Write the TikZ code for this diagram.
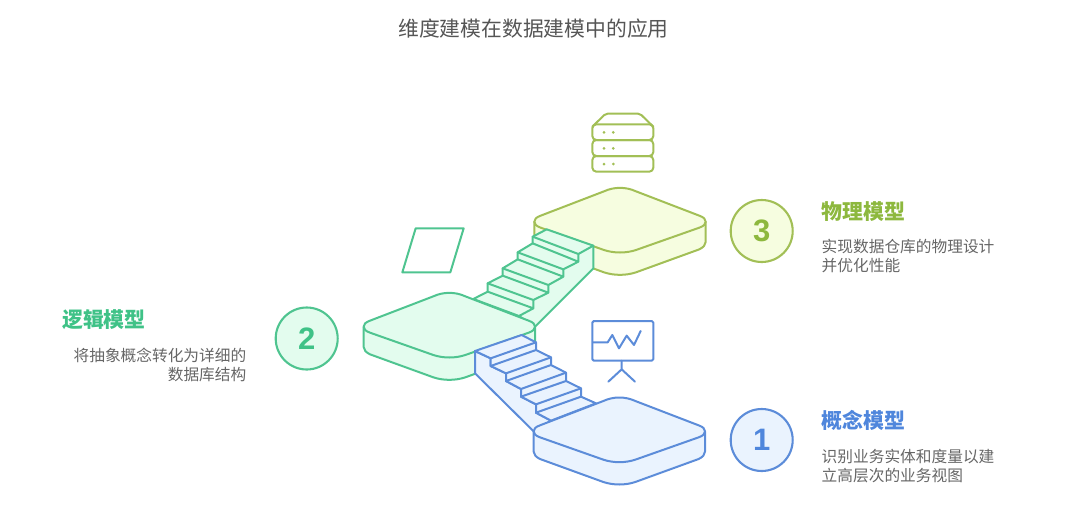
\documentclass[tikz,border=0pt]{standalone}
\usepackage{fontspec}
\setmainfont{Noto Sans CJK SC}
\newfontfamily\numfont{Liberation Sans}
\definecolor{ylin}{HTML}{A2BF56}\definecolor{yfil}{HTML}{F6FDE0}\definecolor{ytxt}{HTML}{8DB83E}
\definecolor{glin}{HTML}{4FC490}\definecolor{gfil}{HTML}{E3FCEE}\definecolor{gtxt}{HTML}{3FC287}
\definecolor{blin}{HTML}{5C8CD9}\definecolor{bfil}{HTML}{EAF3FE}\definecolor{btxt}{HTML}{4F86DC}
\definecolor{bodytxt}{HTML}{666666}\definecolor{titletxt}{HTML}{555555}
\tikzset{
  sketch/.style={line width=2pt,line join=round,line cap=round},
  numcirc/.style={circle,minimum size=62pt,inner sep=0pt,line width=2.1pt,font=\numfont\fontsize{31}{31}\selectfont\bfseries},
  headtxt/.style={inner sep=0pt,font=\fontsize{20.9}{24}\selectfont\bfseries},
  bodyl/.style={inner sep=0pt,text=bodytxt,align=left,anchor=west,font=\fontsize{15.7}{19}\selectfont},
  bodyr/.style={inner sep=0pt,text=bodytxt,align=right,anchor=east,font=\fontsize{15.7}{19}\selectfont},
  zoomed/.style={xshift=350pt,yshift=-280pt,x=0.33333pt,y=-0.33333pt},
}
\newcommand{\platform}[4]{%
  \begin{scope}[shift={(#1,#2)}]
    \path[sketch,draw=#3,fill=#4] (-257,102) -- (-257,163) .. controls (-257,172) and (-250,179) .. (-238,185)
      -- (-48,254) .. controls (-18,264) and (18,264) .. (48,254) -- (238,185)
      .. controls (250,179) and (257,172) .. (257,163) -- (257,102) -- cycle;
    \path[sketch,draw=#3,fill=#4] (-48,11) .. controls (-18,-3) and (18,-3) .. (48,11) -- (238,84)
      .. controls (252,89) and (257,95) .. (257,102) .. controls (257,109) and (252,115) .. (238,120)
      -- (48,187) .. controls (18,197) and (-18,197) .. (-48,187) -- (-238,120)
      .. controls (-252,115) and (-257,109) .. (-257,102) .. controls (-257,95) and (-252,89) .. (-238,84) -- cycle;
  \end{scope}}
\begin{document}
\begin{tikzpicture}[x=1pt,y=-1pt]
\useasboundingbox (0,0) rectangle (1080,520);
\begin{scope}[zoomed]
  % yellow platform
  \platform{810}{-277}{ylin}{yfil}
  % green stairs
  \path[sketch,draw=glin,fill=gfil] (590,-152) -- (548,-130) -- (548,-110) -- (503,-83) -- (503,-62) -- (458,-35) -- (458,-13) -- (413,10) -- (413,35) -- (370,57)
    -- (507,108) -- (555,140) -- (730,-35) -- (730,-103) -- cycle;
  \draw[sketch,draw=glin] (548,-130) -- (685,-78) -- (685,-55) -- (548,-110)
     (503,-83) -- (640,-32) -- (640,-10) -- (503,-62)
     (458,-35) -- (595,15) -- (595,38) -- (458,-13)
     (413,10) -- (550,60) -- (550,85) -- (413,35)
     (685,-55) -- (640,-32) (640,-10) -- (595,15) (595,38) -- (550,60) (550,85) -- (507,108)
     (730,-103) -- (685,-78);
  % green platform
  \platform{298}{38}{glin}{gfil}
  % blue stairs
  \path[sketch,draw=blin,fill=bfil] (375,213) -- (422,235) -- (422,258) -- (468,280) -- (468,303) -- (513,327) -- (513,350) -- (558,373) -- (558,398) -- (603,422)
    -- (552,455) -- (375,280) -- cycle;
  \path[sketch,draw=blin,fill=bfil] (375,213) -- (515,165) -- (558,187) -- (558,210) -- (603,232) -- (603,255) -- (648,278) -- (648,303) -- (693,325) -- (693,350) -- (738,370)
    -- (603,422) -- (558,398) -- (558,373) -- (513,350) -- (513,327) -- (468,303) -- (468,280) -- (422,258) -- (422,235) -- cycle;
  \draw[sketch,draw=blin] (422,235) -- (558,187) (422,258) -- (558,210)
     (468,280) -- (603,232) (468,303) -- (603,255)
     (513,327) -- (648,278) (513,350) -- (648,303)
     (558,373) -- (693,325) (558,398) -- (693,350);
  % blue platform
  \platform{808}{352}{blin}{bfil}
  % parallelogram icon
  \draw[sketch,draw=glin] (197,-155) -- (341,-155) -- (301,-23) -- (157,-23) -- cycle;
  % server icon
  \draw[sketch,draw=ylin,rounded corners=2pt] (727,-460) -- (767,-499) -- (870,-499) -- (910,-460);
  \draw[sketch,draw=ylin,rounded corners=4pt] (727,-467) rectangle (910,-420);
  \draw[sketch,draw=ylin,rounded corners=4pt] (727,-420) rectangle (910,-372);
  \draw[sketch,draw=ylin,rounded corners=4pt] (727,-372) rectangle (910,-325);
  \foreach \yy in {-443,-395,-348} {
    \fill[ylin] (762,\yy) circle (1.5pt);
    \fill[ylin] (790,\yy) circle (1.5pt);
  }
  % board icon
  \draw[sketch,draw=blin,rounded corners=1.5pt] (727,123) rectangle (910,242);
  \draw[sketch,draw=blin] (730,187) -- (773,187) -- (787,165) -- (807,205) -- (830,167) -- (852,195) -- (872,153);
  \draw[sketch,draw=blin] (815,242) -- (815,268) (775,305) -- (815,268) -- (855,305);
\end{scope}
\node[numcirc,draw=ylin,fill=yfil,text=ytxt] (c3) at (761.7,231) {3};
\node[numcirc,draw=glin,fill=gfil,text=gtxt] (c2) at (306.7,338.5) {2};
\node[numcirc,draw=blin,fill=bfil,text=btxt] (c1) at (761.7,440) {1};
\node[inner sep=0pt,text=titletxt,font=\fontsize{20.8}{24}\selectfont] (title) at (533.5,29) {维度建模在数据建模中的应用};
\node[headtxt,text=ytxt,anchor=west] (h3) at (821.5,211.5) {物理模型};
\node[bodyl] (b3) at (821.5,256.5) {实现数据仓库的物理设计\\并优化性能};
\node[headtxt,text=gtxt,anchor=west] (h2) at (62,320) {逻辑模型};
\node[bodyr] (b2) at (246.5,364.5) {将抽象概念转化为详细的\\数据库结构};
\node[headtxt,text=btxt,anchor=west] (h1) at (821.5,420) {概念模型};
\node[bodyl] (b1) at (821.5,466) {识别业务实体和度量以建\\立高层次的业务视图};
\end{tikzpicture}
\end{document}
